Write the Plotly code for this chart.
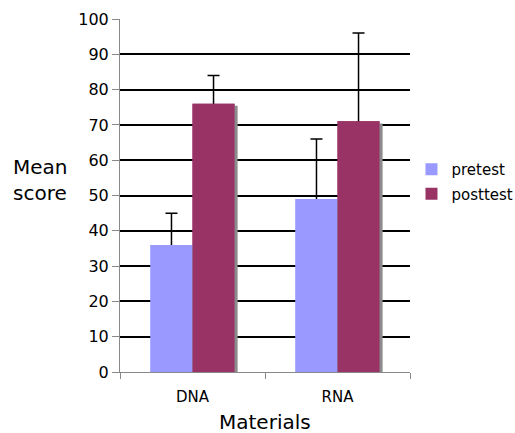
import plotly.graph_objects as go

materials = ["DNA", "RNA"]
pretest = [36, 49]
posttest = [76, 71]
pretest_err = [9, 17]
posttest_err = [8, 25]

PRE_COLOR = "#9999FF"
POST_COLOR = "#993366"
SHADOW = "#8c8c8c"
FONT = "DejaVu Sans, Verdana, sans-serif"

bw = 0.29
sx = 0.021
sy = 0.57

fig = go.Figure()
# base layer: bars carrying the (upward) error bars
fig.add_trace(go.Bar(x=materials, y=pretest, name="pretest", offset=-bw, width=bw,
                     marker=dict(color=PRE_COLOR, line=dict(width=0)), legendgroup="a",
                     error_y=dict(type="data", symmetric=False, array=pretest_err,
                                  arrayminus=[2] * len(pretest), color="black",
                                  thickness=1.5, width=6)))
fig.add_trace(go.Bar(x=materials, y=posttest, name="posttest", offset=0, width=bw,
                     marker=dict(color=POST_COLOR, line=dict(width=0)), legendgroup="b",
                     error_y=dict(type="data", symmetric=False, array=posttest_err,
                                  arrayminus=[2] * len(posttest), color="black",
                                  thickness=1.5, width=6)))
# overlay layer: shadows and bar faces (hide the lower error caps)
fig.add_trace(go.Bar(x=materials, y=pretest, base=-sy, offset=-bw + sx, width=bw,
                     xaxis="x2", yaxis="y2",
                     marker=dict(color=SHADOW, line=dict(width=0)), showlegend=False, hoverinfo="skip"))
fig.add_trace(go.Bar(x=materials, y=pretest, offset=-bw, width=bw, xaxis="x2", yaxis="y2",
                     marker=dict(color=PRE_COLOR, line=dict(width=0)), showlegend=False))
fig.add_trace(go.Bar(x=materials, y=posttest, base=-sy, offset=sx, width=bw,
                     xaxis="x2", yaxis="y2",
                     marker=dict(color=SHADOW, line=dict(width=0)), showlegend=False, hoverinfo="skip"))
fig.add_trace(go.Bar(x=materials, y=posttest, offset=0, width=bw, xaxis="x2", yaxis="y2",
                     marker=dict(color=POST_COLOR, line=dict(width=0)), showlegend=False))

fig.update_layout(
    width=515, height=433,
    margin=dict(l=120, r=105, t=19, b=61, autoexpand=False),
    paper_bgcolor="white", plot_bgcolor="white",
    barmode="overlay",
    font=dict(family=FONT, size=15, color="black"),
    legend=dict(xref="container", yref="container", x=0.799, y=0.581,
                xanchor="left", yanchor="middle",
                font=dict(size=15), tracegroupgap=2, traceorder="grouped",
                bgcolor="rgba(0,0,0,0)"),
    xaxis=dict(type="category", range=[-0.5, 1.5], showgrid=False,
               showline=True, linecolor="#888888", linewidth=1,
               ticks="", ticklabelstandoff=11,
               minor=dict(ticks="outside", tickvals=[-0.5, 0.5, 1.5], ticklen=6, tickcolor="#888888"),
               tickfont=dict(size=15)),
    yaxis=dict(range=[0, 100], dtick=10, showgrid=True, gridcolor="black", gridwidth=1.5,
               showline=True, linecolor="#888888", linewidth=1,
               ticks="outside", ticklen=7, tickcolor="#888888",
               tickfont=dict(size=16), zeroline=False),
    xaxis2=dict(type="category", range=[-0.5, 1.5], overlaying="x", visible=False,
                showgrid=False),
    yaxis2=dict(range=[0, 100], overlaying="y", visible=False, showgrid=False,
                zeroline=False),
    annotations=[
        dict(text="Mean<br>score", xref="paper", yref="y", x=-0.376, y=54.5,
             xanchor="left", yanchor="middle", align="left", showarrow=False,
             font=dict(size=20)),
        dict(text="Materials", xref="paper", yref="paper", x=0.5, y=-0.1416,
             xanchor="center", yanchor="middle", showarrow=False, font=dict(size=20)),
    ],
)

fig.write_html("out.html", config={"displayModeBar": False},
               post_script="document.body.style.margin='0';")
